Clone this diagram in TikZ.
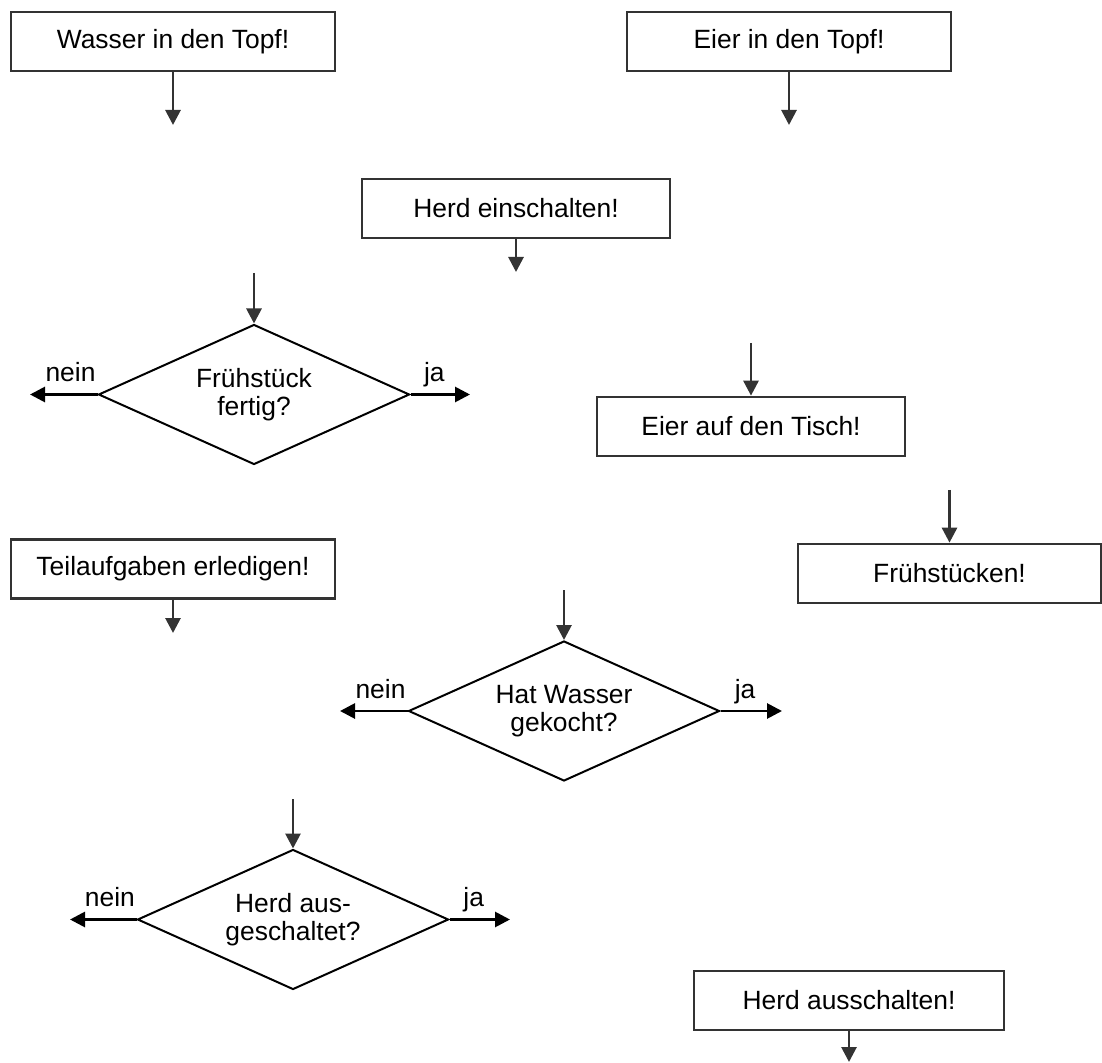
\documentclass[tikz,border=0pt]{standalone}
\usepackage{fontspec}
\setmainfont{Liberation Sans}
\usetikzlibrary{shapes.geometric,arrows.meta}

\begin{document}
\begin{tikzpicture}
[
    x=0.5pt, y=-0.5pt,
    font=\fontsize{13.2}{13.8}\selectfont,
    kasten/.style={draw=black!80,line width=1.35pt,minimum height=29.5pt,inner sep=0pt},
    breit/.style={kasten,minimum width=162pt},
    schmal/.style={kasten,minimum width=154pt},
    frage/.style={draw,shape=diamond,aspect=2.2,line width=1pt,minimum width=155.5pt,minimum height=70pt,inner sep=0pt,align=center},
    pfeil/.style={draw=black!80,line width=1.4pt,-{Triangle[length=7.5pt,width=7.5pt]}},
    zweig/.style={draw=black,line width=1.4pt,-{Triangle[length=7.5pt,width=7.5pt]}},
    antwort/.style={pos=0.4,anchor=base,yshift=6.3pt}
  ]

  \useasboundingbox (0,0) rectangle (1102,1063);

  \node[breit] (wasser) at (173,41.5) {Wasser in den Topf!};
  \node[breit] (eier) at (789,41.5) {Eier in den Topf!};
  \node[schmal] (herd) at (516,208.5) {Herd einschalten!};
  \node[frage] (fertig) at (254,394.5) {Frühstück\\fertig?};
  \node[schmal] (tisch) at (751,426.5) {Eier auf den Tisch!};
  \node[breit] (teil) at (173,569) {Teilaufgaben erledigen!};
  \node[kasten,minimum width=151.5pt] (essen) at (949.5,573.5) {Frühstücken!};
  \node[frage] (gekocht) at (564,711) {Hat Wasser\\gekocht?};
  \node[frage] (aus) at (293,919.5) {Herd aus-\\geschaltet?};
  \node[kasten,minimum width=155pt] (herdaus) at (849,1000.5) {Herd ausschalten!};

  % lose Enden
  \coordinate (wasser-ende) at (173,125);
  \coordinate (eier-ende) at (789,125);
  \coordinate (herd-ende) at (516,272);
  \coordinate (teil-ende) at (173,633);
  \coordinate (herdaus-ende) at (849,1062);
  \coordinate (fertig-start) at (254,273);
  \coordinate (tisch-start) at (751,343);
  \coordinate (essen-start) at (949.5,490);
  \coordinate (gekocht-start) at (564,590);
  \coordinate (aus-start) at (293,799);
  \coordinate (fertig-nein) at (30,394.5);
  \coordinate (fertig-ja) at (470,394.5);
  \coordinate (gekocht-nein) at (340,711);
  \coordinate (gekocht-ja) at (782,711);
  \coordinate (aus-nein) at (70,919.5);
  \coordinate (aus-ja) at (510,919.5);

  \draw[pfeil] (wasser.south) -- (wasser-ende);
  \draw[pfeil] (eier.south) -- (eier-ende);
  \draw[pfeil] (herd.south) -- (herd-ende);
  \draw[pfeil] (teil.south) -- (teil-ende);
  \draw[pfeil] (herdaus.south) -- (herdaus-ende);

  \draw[pfeil] (fertig-start) -- (fertig.north);
  \draw[pfeil] (tisch-start) -- (tisch.north);
  \draw[pfeil] (essen-start) -- (essen.north);
  \draw[pfeil] (gekocht-start) -- (gekocht.north);
  \draw[pfeil] (aus-start) -- (aus.north);

  \draw[zweig] (fertig.west) -- node[antwort] {nein} (fertig-nein);
  \draw[zweig] (fertig.east) -- node[antwort] {ja} (fertig-ja);
  \draw[zweig] (gekocht.west) -- node[antwort] {nein} (gekocht-nein);
  \draw[zweig] (gekocht.east) -- node[antwort] {ja} (gekocht-ja);
  \draw[zweig] (aus.west) -- node[antwort] {nein} (aus-nein);
  \draw[zweig] (aus.east) -- node[antwort] {ja} (aus-ja);
\end{tikzpicture}
\end{document}
